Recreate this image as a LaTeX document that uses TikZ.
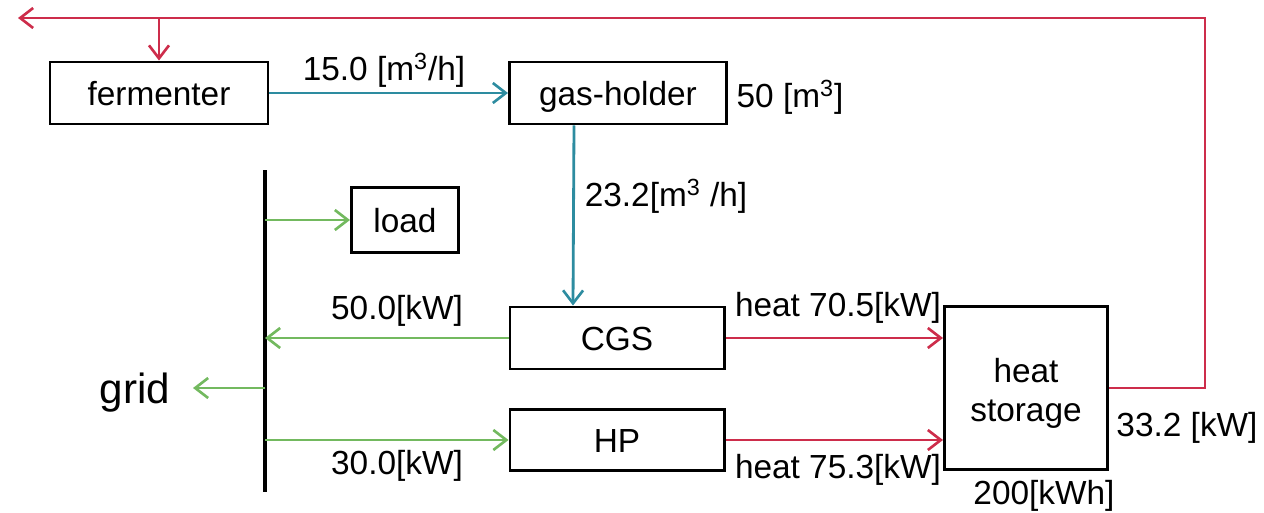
\documentclass[tikz,border=0pt]{standalone}
\usepackage{fontspec}
\setmainfont{Liberation Sans}
\usetikzlibrary{arrows.meta}
\definecolor{gasblue}{RGB}{45,140,160}
\definecolor{elecgreen}{RGB}{115,185,95}
\definecolor{heatred}{RGB}{205,45,75}
\tikzset{
  unit/.style={draw, line width=1.7pt, inner sep=0pt, align=center,
    text height=13.7pt, text depth=0pt, font=\fontsize{19}{21.6}\selectfont},
  lbl/.style={inner sep=0pt, font=\fontsize{19}{22}\selectfont},
  flow/.style={line width=1.6pt, -{Straight Barb[length=2.6mm,width=4mm,line width=1.5pt]}},
  gas/.style={flow, gasblue},
  elec/.style={flow, elecgreen},
  heat/.style={flow, heatred},
}
\begin{document}
\begin{tikzpicture}[x=0.2mm, y=-0.2mm]
  \useasboundingbox (0,0) rectangle (1264,513);
  % units
  \node[unit, minimum width=43.6mm, minimum height=12.4mm] (fermenter) at (159,93) {fermenter};
  \node[unit, minimum width=43.4mm, minimum height=12.4mm] (gasholder) at (618,93) {gas-holder};
  \node[unit, minimum width=21.4mm, minimum height=13mm] (load) at (405,220) {load};
  \node[unit, minimum width=42.8mm, minimum height=12.4mm] (cgs) at (617,338) {CGS};
  \node[unit, minimum width=42.8mm, minimum height=12.2mm] (hp) at (617,440) {HP};
  \node[draw, line width=1.7pt, minimum width=32.6mm, minimum height=32.6mm] (storage) at (1026,388) {};
  \node[lbl, align=center, font=\fontsize{19}{22.2}\selectfont] (storagename) at (1026,393) {heat\\storage};
  \node[inner sep=0pt, font=\fontsize{24}{26}\selectfont] (grid) at (135,393) {grid};
  % bus bar
  \draw[line width=2.2pt] (265,170) coordinate (bustop) -- (265,492) coordinate (busbot);
  \coordinate (gridtip) at (193,388);
  % gas
  \draw[gas] (fermenter) -- (gasholder);
  \draw[gas] ([xshift=-8.8mm]gasholder.south) -- ([xshift=-8.8mm]cgs.north);
  % electricity
  \draw[elec] (bustop |- load) -- (load);
  \draw[elec] (cgs) -- (bustop |- cgs);
  \draw[elec] (bustop |- gridtip) -- (gridtip);
  \draw[elec] (bustop |- hp) -- (hp);
  % heat
  \draw[heat] (cgs) -- (storage.west |- cgs);
  \draw[heat] (hp) -- (storage.west |- hp);
  \coordinate (loopcorner) at (1205,18);
  \coordinate (looptip) at (18,18);
  \draw[heat] (storage.east) -| (loopcorner) -- (looptip);
  \draw[heat] (fermenter.north |- looptip) -- (fermenter.north);
  % labels
  \node[lbl] (gasflow) at (384,70) {15.0 [m\textsuperscript{3}/h]};
  \node[lbl] (gasvol) at (790,97) {50 [m\textsuperscript{3}]};
  \node[lbl] (cgsgas) at (666,196) {23.2[m\textsuperscript{3} /h]};
  \node[lbl] (cgspower) at (397,311) {50.0[kW]};
  \node[lbl] (hppower) at (397,466) {30.0[kW]};
  \node[lbl] (cgsheat) at (838,308) {heat 70.5[kW]};
  \node[lbl] (hpheat) at (838,470) {heat 75.3[kW]};
  \node[lbl] (heatout) at (1187,428) {33.2 [kW]};
  \node[lbl] (heatcap) at (1044,496) {200[kWh]};
\end{tikzpicture}
\end{document}
